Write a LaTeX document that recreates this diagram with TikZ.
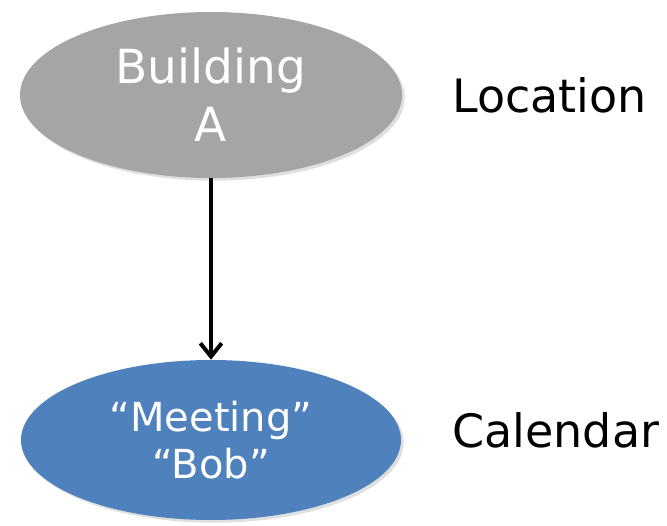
\documentclass[tikz,border=0pt]{standalone}
\usepackage{fontspec}
\setmainfont{DejaVu Sans}
\usetikzlibrary{arrows.meta,shadows,shapes.geometric}
\definecolor{place}{HTML}{A5A5A5}
\definecolor{event}{HTML}{4F81BD}
\tikzset{
  blob/.style={ellipse, inner sep=0pt, text=white, align=center,
    drop shadow={opacity=0.25, shadow xshift=2pt, shadow yshift=-2pt}},
  tag/.style={anchor=base west, inner sep=0pt, font=\fontsize{34.5}{41}\selectfont}
}
\begin{document}
\begin{tikzpicture}[x=0.75pt,y=0.75pt]
        \useasboundingbox (0,0) rectangle (667,525);
        \node[blob, fill=place, minimum width=382*0.75pt, minimum height=166*0.75pt,
          font=\fontsize{35.25}{43.5}\selectfont] (building) at (211,430) {Building\\A};
        \node[blob, fill=event, minimum width=380*0.75pt, minimum height=160*0.75pt,
          font=\fontsize{30}{35.25}\selectfont] (meeting) at (211,85) {“Meeting”\\“Bob”};
        \node[tag] (location) at (452,412) {Location};
        \node[tag] (calendar) at (452,78) {Calendar};
        \draw[-{Straight Barb[length=10pt,width=16pt]}, line width=3pt] (building) -- (meeting);
      \end{tikzpicture}
\end{document}
